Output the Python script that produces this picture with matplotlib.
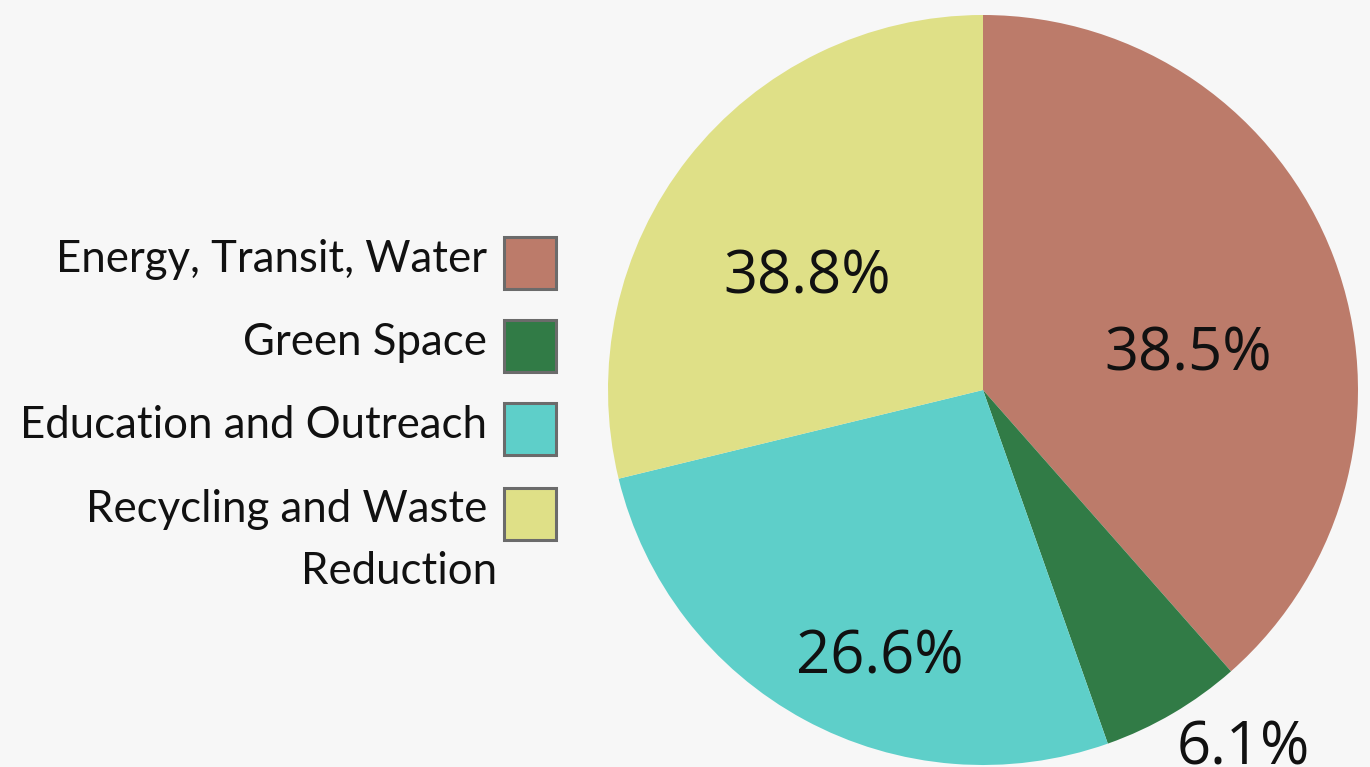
import matplotlib
matplotlib.use("Agg")
import matplotlib.pyplot as plt
from matplotlib.patches import Rectangle

categories = ["Energy, Transit, Water", "Green Space", "Education and Outreach", "Recycling and Waste\nReduction"]
values = [38.5, 6.1, 26.6, 28.8]
value_labels = ["38.5%", "6.1%", "26.6%", "38.8%"]
colors = ["#bc7b6a", "#317b46", "#5ecfc9", "#dfe087"]

W, H = 1370, 767
fig = plt.figure(figsize=(W / 100, H / 100), dpi=100, facecolor="#f7f7f7")

cx, cy, r = 983, 390, 375
ax = fig.add_axes([(cx - r) / W, (H - cy - r) / H, 2 * r / W, 2 * r / H])
ax.set_facecolor("none")
wedges, _ = ax.pie(values, colors=colors, startangle=90, counterclock=False,
                   radius=1.0, wedgeprops=dict(linewidth=0))
ax.set_xlim(-1, 1)
ax.set_ylim(-1, 1)
ax.set_aspect("equal")
ax.axis("off")

label_pos = [(0.547, 0.095), (0.693, -0.955), (-0.275, -0.712), (-0.469, 0.300)]
for (x, y), t in zip(label_pos, value_labels):
    ax.text(x, y, t, ha="center", va="center", fontsize=43, family="Open Sans",
            color="#111111", clip_on=False)

# legend (text right-aligned, swatch on the right)
sq = 52
sq_x = 504
rows_y = [263, 346, 429, 514]
for i, (cat, col) in enumerate(zip(categories, colors)):
    yc = rows_y[i]
    fig.patches.append(Rectangle(((sq_x) / W, (H - yc - sq / 2) / H), sq / W, sq / H,
                                 transform=fig.transFigure, facecolor=col,
                                 edgecolor="#6b6b6b", linewidth=2.2))
    lines = cat.split("\n")
    fig.text(487 / W, (H - yc + 4) / H, lines[0], ha="right", va="center",
             fontsize=31.5, family="Lato", color="#111111")
    if len(lines) > 1:
        fig.text(497 / W, (H - yc - 57) / H, lines[1], ha="right", va="center",
                 fontsize=31.5, family="Lato", color="#111111")

fig.savefig("out.png", dpi=100, facecolor=fig.get_facecolor())
